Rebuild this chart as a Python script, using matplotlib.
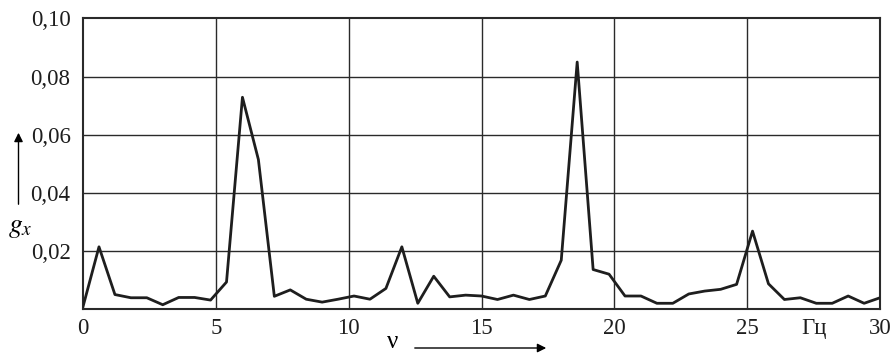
import matplotlib
matplotlib.use('Agg')
import matplotlib.pyplot as plt
import numpy as np

# spectrum, step 0.6 Hz
freq = [i * 0.6 for i in range(51)]
gx = [0.0010, 0.0215, 0.0051, 0.0040, 0.0040, 0.0016, 0.0041, 0.0041, 0.0032, 0.0094,
      0.0729, 0.0515, 0.0045, 0.0067, 0.0035, 0.0025, 0.0035, 0.0046, 0.0035, 0.0072,
      0.0215, 0.0021, 0.0114, 0.0043, 0.0049, 0.0046, 0.0034, 0.0049, 0.0034, 0.0046,
      0.0169, 0.0850, 0.0137, 0.0121, 0.0046, 0.0046, 0.0021, 0.0021, 0.0053, 0.0063,
      0.0069, 0.0086, 0.0269, 0.0088, 0.0034, 0.0040, 0.0021, 0.0021, 0.0046, 0.0021,
      0.0040]

xticks = [0, 5, 10, 15, 20, 25, 27.5, 30]
xlabels = ['0', '5', '10', '15', '20', '25', 'Гц', '30']
yticks = [0.02, 0.04, 0.06, 0.08, 0.10]
ylabels = ['0,02', '0,04', '0,06', '0,08', '0,10']

plt.rcParams['font.family'] = ['Liberation Serif', 'DejaVu Serif']
plt.rcParams['mathtext.fontset'] = 'stix'

fig = plt.figure(figsize=(8.93, 3.54), dpi=100)
ax = fig.add_axes([0.093, 0.126, 0.8925, 0.822])

ink = '#2a2a2a'
for x in [5, 10, 15, 20, 25]:
    ax.axvline(x, color=ink, lw=1.0, zorder=1)
for y in [0.02, 0.04, 0.06, 0.08]:
    ax.axhline(y, color=ink, lw=1.0, zorder=1)

ax.plot(freq, gx, color='#1e1e1e', lw=2.0, zorder=3)

ax.set_xlim(0, 30)
ax.set_ylim(0, 0.10)
ax.set_xticks(xticks)
ax.set_xticklabels(xlabels)
ax.set_yticks(yticks)
ax.set_yticklabels(ylabels)
ax.tick_params(length=0, labelsize=16.5, colors='#1e1e1e')
ax.tick_params(axis='x', pad=6)
ax.tick_params(axis='y', pad=9)
for s in ax.spines.values():
    s.set_color(ink)
    s.set_linewidth(1.5)

# axis names with arrows
fig.text(20 / 893, 1 - 227 / 354, r'$g_x$', fontsize=20, ha='center', va='center')
ax.annotate('', xy=(18.5 / 893, 1 - 130 / 354), xytext=(18.5 / 893, 1 - 207 / 354),
            xycoords='figure fraction', textcoords='figure fraction',
            arrowprops=dict(arrowstyle='-|>', color='black', lw=1.0, mutation_scale=13))

fig.text(393 / 893, 1 - 353 / 354, 'ν', fontsize=18, ha='center', va='bottom')
ax.annotate('', xy=(549 / 893, 1 - 348 / 354), xytext=(412 / 893, 1 - 348 / 354),
            xycoords='figure fraction', textcoords='figure fraction',
            arrowprops=dict(arrowstyle='-|>', color='black', lw=1.0, mutation_scale=13))

fig.savefig('out.png', dpi=100)
